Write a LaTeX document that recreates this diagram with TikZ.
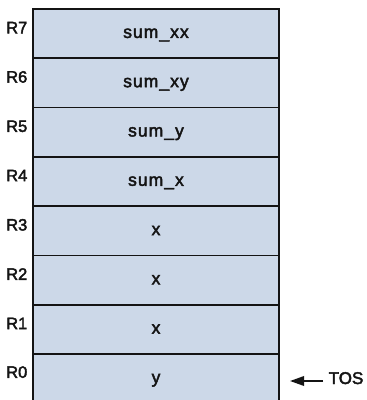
\documentclass[tikz,border=0pt]{standalone}
\usepackage{fontspec}
\setmainfont{Liberation Sans}
\newfontfamily\labfont{Liberation Sans}[FakeBold=2.5]
\newfontfamily\cellfont{Liberation Sans}[LetterSpace=6,FakeBold=2.5]
\usetikzlibrary{arrows.meta}
\definecolor{cellfill}{RGB}{204,216,232}
\definecolor{ink}{RGB}{20,20,20}
\tikzset{
  cell/.style={draw=ink, fill=cellfill, line width=1.7pt, minimum width=246pt,
    minimum height=49.3pt, inner sep=0pt, text height=8.5pt, text depth=0pt,
    font=\cellfont\fontsize{17.5}{20}\selectfont, text=ink},
  reglab/.style={anchor=base west, inner sep=0pt, font=\labfont\fontsize{16.5}{20}\selectfont, text=ink},
  toslab/.style={anchor=base west, inner sep=0pt, font=\labfont\fontsize{17}{20}\selectfont, text=ink},
  tosarrow/.style={draw=ink, line width=1.8pt, -{Triangle[length=14pt,width=9.5pt]}}
}
\begin{document}
\begin{tikzpicture}[x=1pt,y=-1pt]
\useasboundingbox (0,0) rectangle (367,400);
\node[cell] (r7) at (156,33.65) {sum\_xx};
\node[cell] (r6) at (156,82.95) {sum\_xy};
\node[cell] (r5) at (156,132.25) {sum\_y};
\node[cell] (r4) at (156,181.55) {sum\_x};
\node[cell] (r3) at (156,230.85) {x};
\node[cell] (r2) at (156,280.15) {x};
\node[cell] (r1) at (156,329.45) {x};
\node[cell] (r0) at (156,378.75) {y};
\node[reglab] (l7) at (6,33.3) {R7};
\node[reglab] (l6) at (6,82.6) {R6};
\node[reglab] (l5) at (6,131.9) {R5};
\node[reglab] (l4) at (6,181.2) {R4};
\node[reglab] (l3) at (6,230.5) {R3};
\node[reglab] (l2) at (6,279.8) {R2};
\node[reglab] (l1) at (6,329.1) {R1};
\node[reglab] (l0) at (6,377.8) {R0};
\node[toslab] (tos) at (328.5,384) {TOS};
\coordinate (tail) at (323,381);
\coordinate (tip) at (290,381);
\draw[tosarrow] (tail) -- (tip);
\end{tikzpicture}
\end{document}
